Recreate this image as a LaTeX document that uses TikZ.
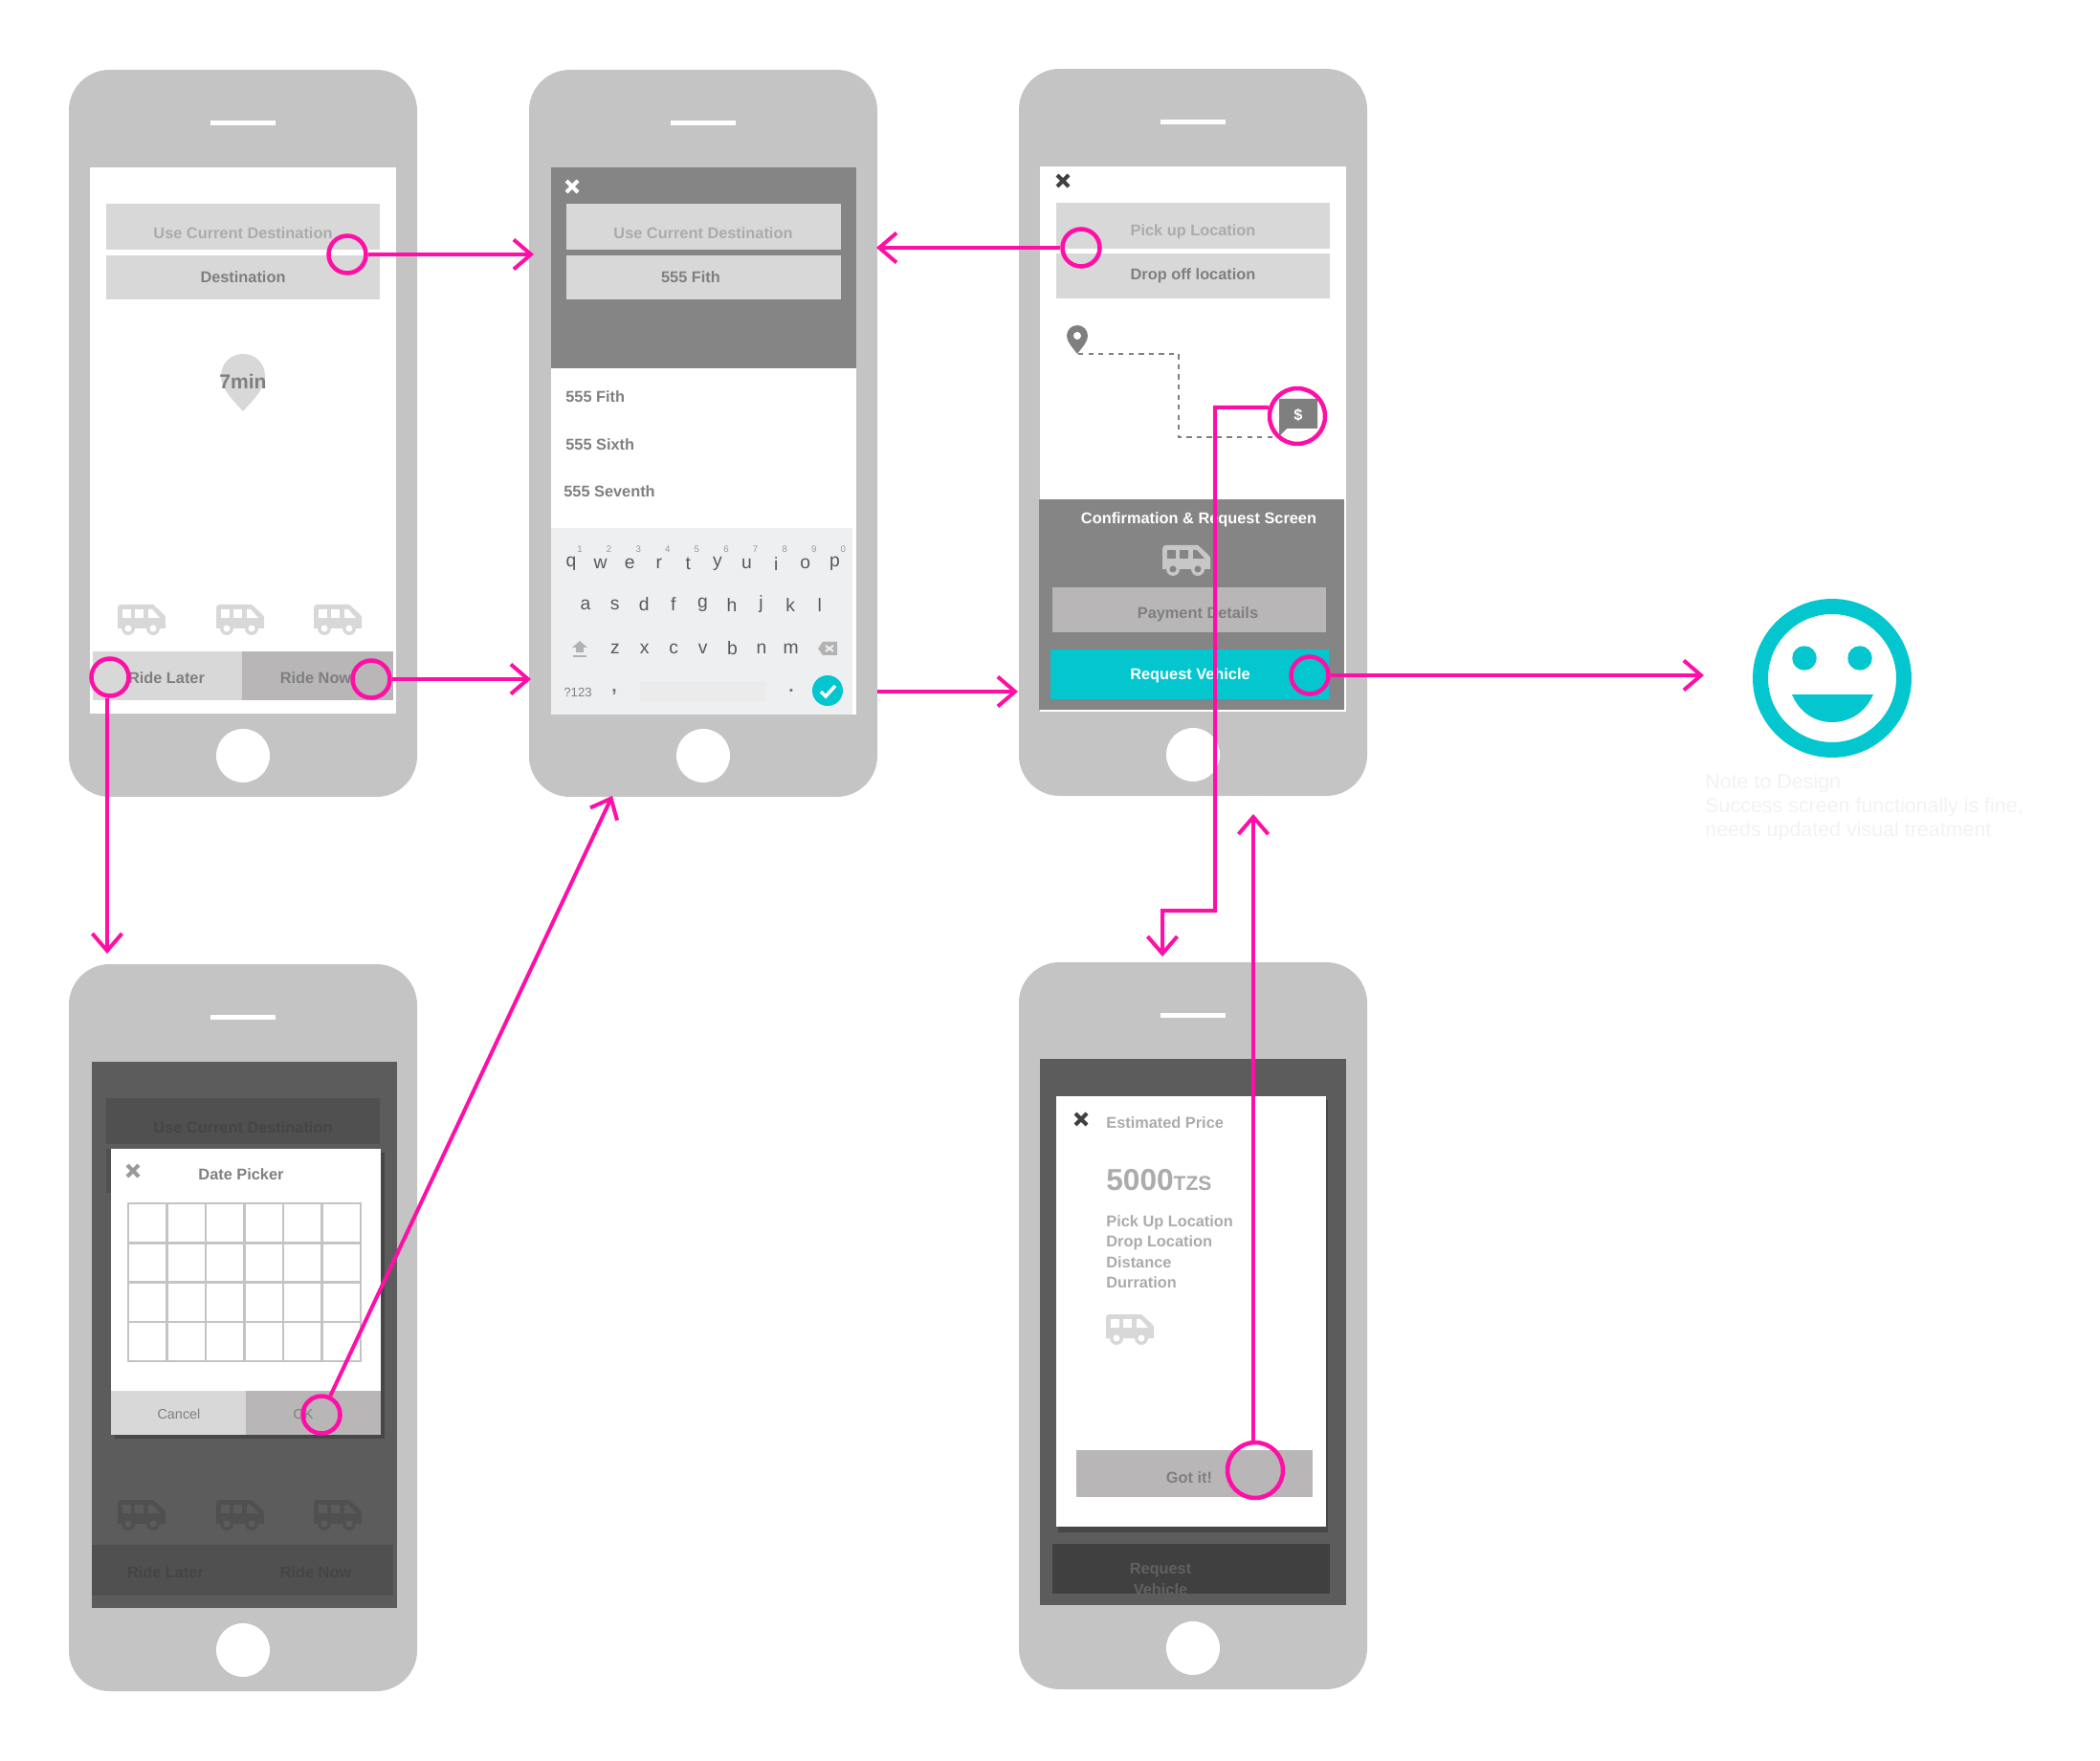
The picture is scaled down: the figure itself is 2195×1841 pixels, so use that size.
\documentclass[tikz,border=0pt]{standalone}
\usepackage{fontspec}
\setmainfont{Liberation Sans}
\usetikzlibrary{arrows.meta}

\definecolor{phonegray}{HTML}{C4C4C4}
\definecolor{btnlight}{HTML}{D8D8D8}
\definecolor{btnmid}{HTML}{B8B6B7}
\definecolor{panelgray}{HTML}{858585}
\definecolor{dimgray}{HTML}{5C5C5C}
\definecolor{dimbtn}{HTML}{505050}
\definecolor{dimtext}{HTML}{454545}
\definecolor{keybg}{HTML}{EEEFF1}
\definecolor{flowpink}{HTML}{FF0FA6}
\definecolor{tealok}{HTML}{04C6CF}
\definecolor{softtext}{HTML}{ABABAB}
\definecolor{midtext}{HTML}{7F7F7F}

\newcommand{\btnfont}{\fontsize{9.3}{11}\selectfont\bfseries}
\newcommand{\smallfont}{\fontsize{8.2}{10}\selectfont}

\tikzset{
	lbl/.style={inner sep=0pt, yshift=-0.03cm, font=\btnfont, text=midtext},
	softlbl/.style={lbl, text=softtext},
	dimlbl/.style={lbl, text=dimtext},
	leftlbl/.style={lbl, anchor=west},
	keylbl/.style={inner sep=0pt, font=\fontsize{11}{13}\selectfont, text=black!65},
	hintlbl/.style={inner sep=0pt, font=\fontsize{5.5}{7}\selectfont, text=black!40},
	ring/.style={circle, draw=flowpink, line width=0.09cm, inner sep=0pt, minimum size=0.78cm},
	bigring/.style={ring, minimum size=1.16cm},
	flow/.style={draw=flowpink, line width=0.08cm, -{Straight Barb[length=0.36cm,width=0.62cm]}},
	pics/van/.style 2 args={code={
		\fill[#1] (0,4) .. controls (0,1) and (1,0) .. (4,0) -- (37,0) -- (48,10) .. controls (50,12) and (50,13) .. (50,15) -- (50,25) -- (0,25) -- cycle;
		\fill[#2] (5,5) rectangle (14,14);
		\fill[#2] (18,5) rectangle (27,14);
		\fill[#2] (32,5) -- (36,5) -- (44,14) -- (32,14) -- cycle;
		\fill[#1] (11,25) circle [radius=0.14cm];
		\fill[#1] (37,25) circle [radius=0.14cm];
		\fill[#2] (11,25) circle [radius=0.07cm];
		\fill[#2] (37,25) circle [radius=0.07cm];
	}},
	pics/xmark/.style={code={
		\draw[#1, line width=0.08cm] (-6,-6) -- (6,6);
		\draw[#1, line width=0.08cm] (-6,6) -- (6,-6);
	}}
}

% phone body at top left corner
\newcommand{\phonebody}[2]{
	\fill[phonegray, rounded corners=0.85cm] (#1,#2) rectangle ++(364,760);
	\fill[white] (#1+148,#2+53) rectangle ++(68,5);
	\fill[white] (#1+182,#2+717) circle [radius=0.56cm];
}

\begin{document}
\begin{tikzpicture}[x=0.02cm,y=-0.02cm]
	\useasboundingbox (0,0) rectangle (2195,1841);

	% phone one
	\phonebody{72}{73}
	\fill[white] (94,175) rectangle (414,746);
	\fill[btnlight] (111,213) rectangle (397,261);
	\fill[btnlight] (111,267) rectangle (397,313);
	\node[softlbl] (curone) at (254,242) {Use Current Destination};
	\node[lbl] (destone) at (254,288) {Destination};
	\fill[btnlight] (254,430) .. controls (240,415) and (231,405) .. (231,393) .. controls (231,380) and (241,370) .. (254,370) .. controls (267,370) and (277,380) .. (277,393) .. controls (277,405) and (268,415) .. (254,430) -- cycle;
	\node[lbl, font=\fontsize{12}{14}\selectfont\bfseries] (minone) at (254,397) {7min};
	\foreach \x in {123,226,328}
		\pic at (\x,632) {van={btnlight}{white}};
	\fill[btnlight] (97,681) rectangle (253,732);
	\fill[btnmid] (253,681) rectangle (411,732);
	\node[lbl] (laterone) at (174,707) {Ride Later};
	\node[lbl] (nowone) at (330,707) {Ride Now};

	% phone two
	\phonebody{553}{73}
	\fill[white] (576,175) rectangle (895,747);
	\fill[panelgray] (576,175) rectangle (895,385);
	\pic at (598,195) {xmark=white};
	\fill[btnlight] (592,213) rectangle (879,261);
	\fill[btnlight] (592,267) rectangle (879,313);
	\node[softlbl] (curtwo) at (735,242) {Use Current Destination};
	\node[lbl] (desttwo) at (722,288) {555 Fith};
	\node[leftlbl] (fifth) at (591,413) {555 Fith};
	\node[leftlbl] (sixth) at (591,463) {555 Sixth};
	\node[leftlbl] (seventh) at (589,512) {555 Seventh};
	% keyboard
	\fill[keybg] (576,552) rectangle (891,747);
	\foreach \k [count=\i] in {q,w,e,r,t,y,u,i,o,p}
		\node[keylbl] (key\k) at ({597+30.6*(\i-1)},589) {\k};
	\foreach \k [count=\i] in {1,2,3,4,5,6,7,8,9,0}
		\node[hintlbl] (hint\k) at ({606+30.6*(\i-1)},574) {\k};
	\foreach \k [count=\i] in {a,s,d,f,g,h,j,k,l}
		\node[keylbl] (key\k) at ({612+30.6*(\i-1)},632) {\k};
	\foreach \k [count=\i] in {z,x,c,v,b,n,m}
		\node[keylbl] (key\k) at ({643+30.6*(\i-1)},678) {\k};
	\fill[black!30] (606,670) -- (614,677) -- (610,677) -- (610,682) -- (602,682) -- (602,677) -- (598,677) -- cycle;
	\fill[black!30] (599,685) rectangle (613,687);
	\fill[black!30] (855,678) -- (860,671) -- (875,671) -- (875,685) -- (860,685) -- cycle;
	\draw[keybg, line width=0.04cm] (863,675) -- (871,681);
	\draw[keybg, line width=0.04cm] (863,681) -- (871,675);
	\node[hintlbl, font=\fontsize{7.5}{9}\selectfont, text=black!50] (numkey) at (604,724) {?123};
	\node[keylbl, font=\fontsize{11}{13}\selectfont\bfseries, text=black!55] (commakey) at (642,724) {,};
	\fill[black!8] (669,712) rectangle (801,733);
	\node[keylbl, font=\fontsize{11}{13}\selectfont\bfseries, text=black!55] (dotkey) at (827,722) {.};
	\fill[tealok] (865,722) circle [radius=0.32cm];
	\draw[white, line width=0.07cm] (858,723) -- (863,728) -- (873,717);

	% phone three
	\phonebody{1065}{72}
	\fill[white] (1087,174) rectangle (1407,744);
	\pic at (1111,189) {xmark=black!75};
	\fill[btnlight] (1104,212) rectangle (1390,260);
	\fill[btnlight] (1104,265) rectangle (1390,312);
	\node[softlbl] (pickup) at (1247,241) {Pick up Location};
	\node[lbl] (dropoff) at (1247,287) {Drop off location};
	\fill[midtext] (1126,370) .. controls (1120,362) and (1115,357) .. (1115,351) .. controls (1115,345) and (1120,340) .. (1126,340) .. controls (1132,340) and (1137,345) .. (1137,351) .. controls (1137,357) and (1132,362) .. (1126,370) -- cycle;
	\fill[white] (1126,351) circle [radius=0.08cm];
	\draw[midtext, dashed, line width=0.04cm] (1127,370) -- (1232,370) -- (1232,457) -- (1338,457);
	\fill[midtext] (1337,417) -- (1377,417) -- (1377,448) -- (1345,448) -- (1337,456) -- cycle;
	\node[lbl, text=white] (price) at (1357,433) {\$};
	\fill[panelgray] (1086,522) rectangle (1405,742);
	\node[lbl, text=white] (confirm) at (1253,542) {Confirmation \& Request Screen};
	\pic at (1215,570) {van={black!22}{panelgray}};
	\fill[btnmid] (1100,614) rectangle (1386,661);
	\node[lbl] (payment) at (1252,641) {Payment Details};
	\fill[tealok] (1098,679) rectangle (1389,731);
	\node[lbl, text=white] (request) at (1244,705) {Request Vehicle};

	% phone four
	\phonebody{1065}{1006}
	\fill[dimgray] (1087,1107) rectangle (1407,1678);
	\fill[black!75] (1100,1614) rectangle (1390,1666);
	\begin{scope}
		\clip (1100,1614) rectangle (1390,1666);
		\node[dimlbl, text=black!62] (reqdim) at (1213,1640) {Request};
		\node[dimlbl, text=black!62] (vehdim) at (1213,1660) {Vehicle};
	\end{scope}
	\fill[black!72] (1106,1150) rectangle (1388,1602);
	\fill[white] (1104,1146) rectangle (1386,1596);
	\pic at (1130,1170) {xmark=black!75};
	\node[leftlbl, text=softtext] (estimate) at (1156,1172) {Estimated Price};
	\node[leftlbl, text=softtext, font=\fontsize{18}{20}\selectfont\bfseries] (amount) at (1156,1232) {5000\fontsize{12}{14}\selectfont TZS};
	\node[leftlbl, text=softtext] (pickrow) at (1156,1277) {Pick Up Location};
	\node[leftlbl, text=softtext] (droprow) at (1156,1298) {Drop Location};
	\node[leftlbl, text=softtext] (distrow) at (1156,1318) {Distance};
	\node[leftlbl, text=softtext] (durrow) at (1156,1339) {Durration};
	\pic at (1156,1374) {van={btnlight}{white}};
	\fill[btnmid] (1125,1516) rectangle (1372,1565);
	\node[lbl] (gotit) at (1243,1543) {Got it!};

	% phone five
	\phonebody{72}{1008}
	\fill[dimgray] (96,1110) rectangle (415,1681);
	\fill[dimbtn] (111,1148) rectangle (397,1196);
	\node[dimlbl] (curfive) at (254,1177) {Use Current Destination};
	\fill[dimbtn] (111,1201) rectangle (397,1247);
	\foreach \x in {123,226,328}
		\pic at (\x,1568) {van={dimbtn}{dimgray}};
	\fill[dimbtn] (96,1615) rectangle (411,1668);
	\node[dimlbl] (laterfive) at (173,1642) {Ride Later};
	\node[dimlbl] (nowfive) at (330,1642) {Ride Now};
	\fill[black!72] (120,1205) rectangle (402,1504);
	\fill[white] (116,1201) rectangle (398,1500);
	\pic at (139,1224) {xmark=black!40};
	\node[lbl, text=black!50] (picker) at (252,1226) {Date Picker};
	\draw[phonegray, line width=0.05cm] (134,1258) rectangle (377,1423);
	\foreach \x in {1,...,5}
		\draw[phonegray, line width=0.05cm] ({134+40.5*\x},1258) -- ({134+40.5*\x},1423);
	\foreach \y in {1,2,3}
		\draw[phonegray, line width=0.05cm] (134,{1258+41.25*\y}) -- (377,{1258+41.25*\y});
	\fill[btnlight] (116,1454) rectangle (257,1500);
	\fill[btnmid] (257,1454) rectangle (398,1500);
	\node[lbl, font=\smallfont] (cancel) at (187,1477) {Cancel};
	\node[lbl, font=\smallfont] (okbtn) at (317,1477) {OK};

	% smiley
	\fill[tealok, even odd rule] (1915,709) circle [radius=1.66cm] (1915,709) circle [radius=1.34cm];
	\fill[tealok] (1886,688) circle [radius=0.255cm];
	\fill[tealok] (1944,688) circle [radius=0.255cm];
	\fill[tealok] (1873,726) -- (1958,726) .. controls (1950,745) and (1933,755) .. (1915,755) .. controls (1897,755) and (1881,745) .. (1873,726) -- cycle;
	\node[leftlbl, text=black!5, font=\fontsize{12.2}{14}\selectfont] (noteone) at (1782,817) {Note to Design};
	\node[leftlbl, text=black!5, font=\fontsize{12.2}{14}\selectfont] (notetwo) at (1782,842) {Success screen functionally is fine,};
	\node[leftlbl, text=black!5, font=\fontsize{12.2}{14}\selectfont] (notethree) at (1782,867) {needs updated visual treatment};

	% circles
	\node[ring] (curring) at (363,266) {};
	\node[ring] (nowring) at (388,710) {};
	\node[ring] (laterring) at (115,708) {};
	\node[ring] (pickring) at (1130,259) {};
	\node[bigring] (pricering) at (1356,435) {};
	\node[ring] (reqring) at (1369,706) {};
	\node[bigring] (gotring) at (1312,1537) {};
	\node[ring] (okring) at (336,1479) {};

	% arrow ends
	\coordinate (tipcur) at (558,266);
	\coordinate (tipnow) at (555,710);
	\coordinate (tiplater) at (112,997);
	\coordinate (tipok) at (640,832);
	\coordinate (tippick) at (916,259);
	\coordinate (starttwo) at (917,723);
	\coordinate (tiptwo) at (1064,723);
	\coordinate (tipreq) at (1781,706);
	\coordinate (tipgot) at (1310,851);
	\coordinate (bendone) at (1270,426);
	\coordinate (bendtwo) at (1270,952);
	\coordinate (bendthree) at (1215,952);
	\coordinate (tipprice) at (1215,1000);

	\draw[flow] (curring.east) -- (tipcur);
	\draw[flow] (nowring.east) -- (tipnow);
	\draw[flow] (laterring.south -| tiplater) -- (tiplater);
	\draw[flow] (okring) -- (tipok);
	\draw[flow] (pickring.west) -- (tippick);
	\draw[flow] (starttwo) -- (tiptwo);
	\draw[flow] (reqring.east) -- (tipreq);
	\draw[flow] (gotring.north -| tipgot) -- (tipgot);
	\draw[flow] (pricering.163) -- (bendone) -- (bendtwo) -- (bendthree) -- (tipprice);
\end{tikzpicture}
\end{document}
